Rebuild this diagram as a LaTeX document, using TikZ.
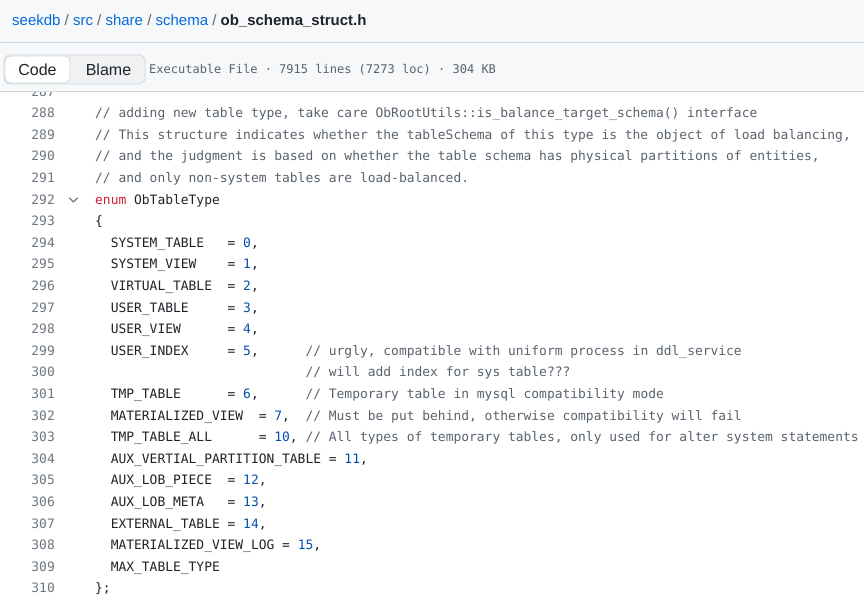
\documentclass[tikz,border=0pt]{standalone}
\usepackage{fontspec}
\setmainfont{Liberation Sans}
\newfontfamily\codefont{DejaVu Sans Mono}
\usetikzlibrary{positioning}

\definecolor{ink}{HTML}{1F2328}
\definecolor{headbg}{HTML}{F6F8FA}
\definecolor{rulegray}{HTML}{D1D9E0}
\definecolor{seggray}{HTML}{EFF1F3}
\definecolor{linkblue}{HTML}{0969DA}
\definecolor{sepgray}{HTML}{59636E}
\definecolor{nogray}{HTML}{6E7781}
\definecolor{cmtgray}{HTML}{59636E}
\definecolor{kwred}{HTML}{CF222E}
\definecolor{numblue}{HTML}{0550AE}

\newcommand\cmt[1]{\textcolor{cmtgray}{#1}}
\newcommand\num[1]{\textcolor{numblue}{#1}}
\newcommand\kw[1]{\textcolor{kwred}{#1}}
\newcommand\lnk[1]{\textcolor{linkblue}{#1}}
\newcommand\sep{\textcolor{sepgray}{/}}

\tikzset{
	codeline/.style={anchor=base west, inner sep=0pt, text=ink, font=\codefont\fontsize{12.94}{15}\selectfont},
	lineno/.style={anchor=base east, inner sep=0pt, text=nogray, font=\codefont\fontsize{12.94}{15}\selectfont},
	rule/.style={draw=rulegray, line width=1pt},
	tabon/.style={draw=rulegray, fill=white, rounded corners=6pt, line width=0.8pt, minimum width=65pt, minimum height=27pt, inner sep=0pt, text=ink, font=\fontsize{16}{19}\selectfont},
	taboff/.style={inner sep=0pt, text=ink, font=\fontsize{16}{19}\selectfont}
}

\begin{document}
\frenchspacing
\begin{tikzpicture}[x=1pt,y=-1pt]
	\useasboundingbox (0,0) rectangle (864,601);
	\fill[white] (0,0) rectangle (864,601);
	% first line, half hidden under the header
	\node[lineno] (n287) at (55,96.1) {287};
	% header
	\fill[headbg] (0,0) rectangle (864,92);
	\draw[rule] (0,43) -- (864,43);
	\draw[rule] (0,92) -- (864,92);
	\node[anchor=base west, inner sep=0pt, text=ink, font=\fontsize{15}{18}\selectfont] (crumb) at (12,26) {\lnk{seekdb} \sep{} \lnk{src} \sep{} \lnk{share} \sep{} \lnk{schema} \sep{} \textbf{ob\_schema\_struct.h}};
	\draw[rule, fill=seggray, rounded corners=6pt, line width=0.8pt] (4,55) rectangle (145,84);
	\node[tabon] (code) at (37.5,69.5) {Code};
	\node[taboff] (blame) at (108.5,69.5) {Blame};
	\node[anchor=base west, inner sep=0pt, text=sepgray, font=\codefont\fontsize{12}{14}\selectfont] (info) at (149,73.3) {Executable File · 7915 lines (7273 loc) · 304 KB};
	% line numbers
	\node[lineno] (n288) at (55,117.7) {288};
	\node[lineno] (n289) at (55,139.3) {289};
	\node[lineno] (n290) at (55,160.9) {290};
	\node[lineno] (n291) at (55,182.5) {291};
	\node[lineno] (n292) at (55,204.1) {292};
	\node[lineno] (n293) at (55,225.7) {293};
	\node[lineno] (n294) at (55,247.3) {294};
	\node[lineno] (n295) at (55,268.9) {295};
	\node[lineno] (n296) at (55,290.5) {296};
	\node[lineno] (n297) at (55,312.1) {297};
	\node[lineno] (n298) at (55,333.7) {298};
	\node[lineno] (n299) at (55,355.3) {299};
	\node[lineno] (n300) at (55,376.9) {300};
	\node[lineno] (n301) at (55,398.5) {301};
	\node[lineno] (n302) at (55,420.1) {302};
	\node[lineno] (n303) at (55,441.7) {303};
	\node[lineno] (n304) at (55,463.3) {304};
	\node[lineno] (n305) at (55,484.9) {305};
	\node[lineno] (n306) at (55,506.5) {306};
	\node[lineno] (n307) at (55,528.1) {307};
	\node[lineno] (n308) at (55,549.7) {308};
	\node[lineno] (n309) at (55,571.3) {309};
	\node[lineno] (n310) at (55,592.9) {310};
	% fold chevron
	\draw[nogray, line width=1.1pt, line cap=round, line join=round] (69.5,198) -- (73.5,202) -- (77.5,198);
	% code
	\node[codeline] (l288) at (95,117.7) {\cmt{// adding new table type, take care ObRootUtils::is\_balance\_target\_schema() interface}};
	\node[codeline] (l289) at (95,139.3) {\cmt{// This structure indicates whether the tableSchema of this type is the object of load balancing,}};
	\node[codeline] (l290) at (95,160.9) {\cmt{// and the judgment is based on whether the table schema has physical partitions of entities,}};
	\node[codeline] (l291) at (95,182.5) {\cmt{// and only non-system tables are load-balanced.}};
	\node[codeline] (l292) at (95,204.1) {\kw{enum} ObTableType};
	\node[codeline] (l293) at (95,225.7) {\{};
	\node[codeline] (l294) at (95,247.3) {~~SYSTEM\_TABLE~~~= \num{0},};
	\node[codeline] (l295) at (95,268.9) {~~SYSTEM\_VIEW~~~~= \num{1},};
	\node[codeline] (l296) at (95,290.5) {~~VIRTUAL\_TABLE~~= \num{2},};
	\node[codeline] (l297) at (95,312.1) {~~USER\_TABLE~~~~~= \num{3},};
	\node[codeline] (l298) at (95,333.7) {~~USER\_VIEW~~~~~~= \num{4},};
	\node[codeline] (l299) at (95,355.3) {~~USER\_INDEX~~~~~= \num{5},~~~~~~\cmt{// urgly, compatible with uniform process in ddl\_service}};
	\node[codeline] (l300) at (95,376.9) {~~~~~~~~~~~~~~~~~~~~~~~~~~~\cmt{// will add index for sys table???}};
	\node[codeline] (l301) at (95,398.5) {~~TMP\_TABLE~~~~~~= \num{6},~~~~~~\cmt{// Temporary table in mysql compatibility mode}};
	\node[codeline] (l302) at (95,420.1) {~~MATERIALIZED\_VIEW~~= \num{7},~~\cmt{// Must be put behind, otherwise compatibility will fail}};
	\node[codeline] (l303) at (95,441.7) {~~TMP\_TABLE\_ALL~~~~~~= \num{10}, \cmt{// All types of temporary tables, only used for alter system statements}};
	\node[codeline] (l304) at (95,463.3) {~~AUX\_VERTIAL\_PARTITION\_TABLE = \num{11},};
	\node[codeline] (l305) at (95,484.9) {~~AUX\_LOB\_PIECE~~= \num{12},};
	\node[codeline] (l306) at (95,506.5) {~~AUX\_LOB\_META~~~= \num{13},};
	\node[codeline] (l307) at (95,528.1) {~~EXTERNAL\_TABLE = \num{14},};
	\node[codeline] (l308) at (95,549.7) {~~MATERIALIZED\_VIEW\_LOG = \num{15},};
	\node[codeline] (l309) at (95,571.3) {~~MAX\_TABLE\_TYPE};
	\node[codeline] (l310) at (95,592.9) {\};};
\end{tikzpicture}
\end{document}
